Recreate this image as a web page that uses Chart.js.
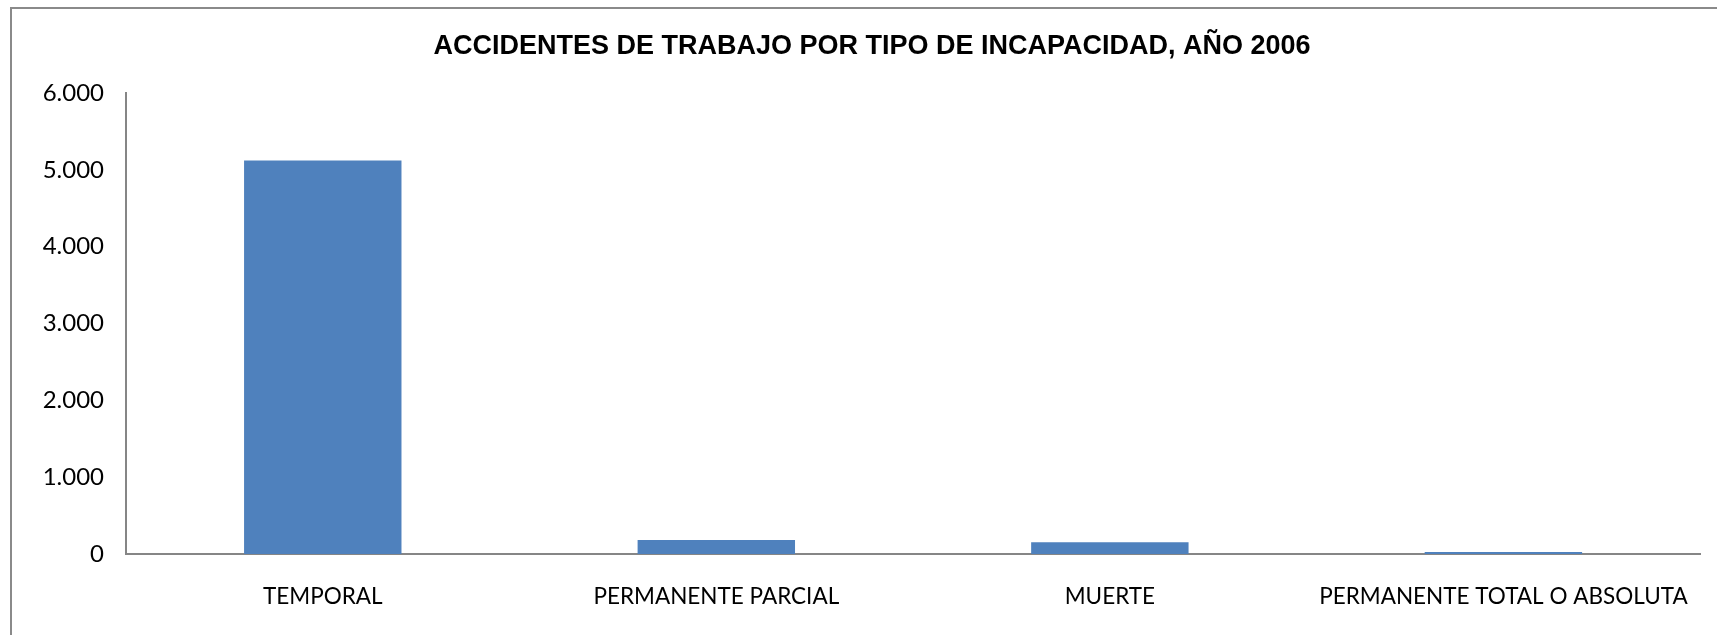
<!DOCTYPE html>
<html>
<head>
<meta charset="utf-8">
<script src="https://cdn.jsdelivr.net/npm/chart.js@4/dist/chart.umd.min.js"></script>
<style>
  html, body { margin: 0; padding: 0; background: #fff; overflow: hidden; }
  #wrap { position: relative; width: 1717px; height: 635px; overflow: hidden; }
  #frame { position: absolute; left: 10px; top: 7px; width: 2000px; height: 2000px;
           border-left: 2px solid #8a8a8a; border-top: 2px solid #8a8a8a; box-sizing: border-box; }
  canvas { position: absolute; left: 0; top: 0; }
</style>
</head>
<body>
<div id="wrap">
  <div id="frame"></div>
  <canvas id="c" width="1717" height="635"></canvas>
</div>
<script>
const chartTitle = 'ACCIDENTES DE TRABAJO POR TIPO DE INCAPACIDAD, AÑO 2006';
const categories = ['TEMPORAL', 'PERMANENTE PARCIAL', 'MUERTE', 'PERMANENTE TOTAL O ABSOLUTA'];
const accidents = [5120, 182, 152, 25];
const yTicks = [0, 1000, 2000, 3000, 4000, 5000, 6000];

function fmt(v) {
  return String(v).replace(/\B(?=(\d{3})+(?!\d))/g, '.');
}

new Chart(document.getElementById('c'), {
  type: 'bar',
  data: {
    labels: categories,
    datasets: [{
      label: 'Accidentes',
      data: accidents,
      backgroundColor: '#4F81BD',
      borderWidth: 0,
      categoryPercentage: 1,
      barPercentage: 0.4
    }]
  },
  options: {
    responsive: false,
    animation: false,
    layout: { padding: { left: 30, right: 3, top: 0, bottom: 0 } },
    plugins: {
      legend: { display: false },
      tooltip: { enabled: false },
      title: {
        display: true,
        text: chartTitle,
        color: '#000',
        font: { family: '"Liberation Sans Narrow", "Liberation Sans", Arial, sans-serif', size: 27, weight: 'bold', lineHeight: 1.2 },
        padding: { top: 30.6, bottom: 30 }
      }
    },
    scales: {
      x: {
        grid: { display: false, drawTicks: false },
        border: { display: true, color: '#868686', width: 2 },
        ticks: {
          color: '#000',
          font: { family: 'Lato, "Open Sans", sans-serif', size: 22.5, lineHeight: 1.2 },
          padding: 29,
          maxRotation: 0,
          autoSkip: false
        },
        afterFit: (s) => { s.height = 81; }
      },
      y: {
        min: 0,
        max: 6000,
        afterBuildTicks: (s) => { s.ticks = yTicks.map(v => ({ value: v })); },
        grid: { display: false, drawTicks: false },
        border: { display: true, color: '#868686', width: 2 },
        ticks: {
          color: '#000',
          font: { family: 'Lato, "Open Sans", sans-serif', size: 24 },
          padding: 22,
          callback: (v) => fmt(v)
        },
        afterFit: (s) => { s.width = 96; }
      }
    }
  }
});
</script>
</body>
</html>
